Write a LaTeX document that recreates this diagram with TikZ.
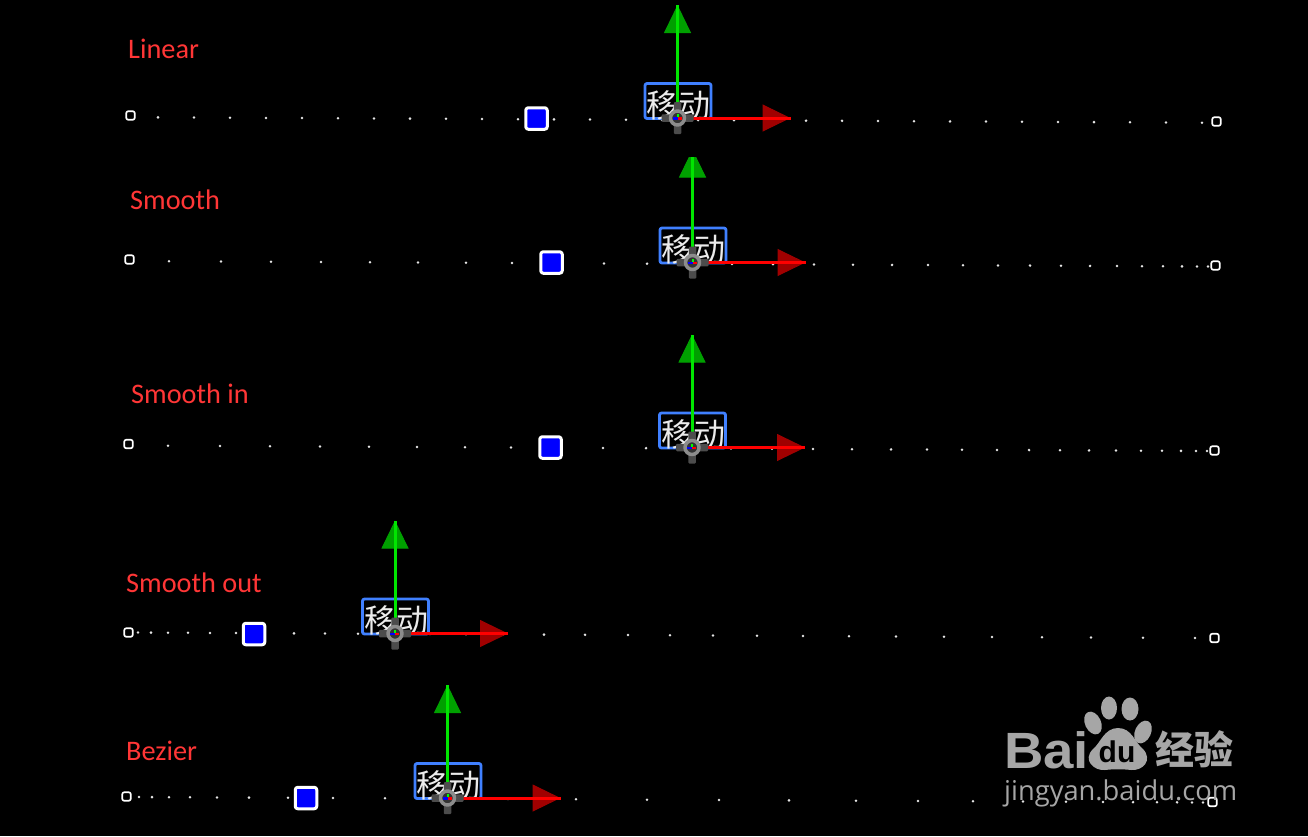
\documentclass[tikz,border=0pt]{standalone}
\usepackage{fontspec}
\setmainfont{Carlito}
\newfontfamily\cjk{Noto Sans CJK SC}
\newfontfamily\wmfont{Open Sans}
\newfontfamily\logofont{Liberation Sans}
\usetikzlibrary{arrows.meta,positioning,calc,shapes.geometric}
\definecolor{cred}{HTML}{ff3636}
\definecolor{cbox}{HTML}{4080ff}
\definecolor{cheadr}{HTML}{a00000}
\definecolor{cheadg}{HTML}{00a000}
\definecolor{cwm}{HTML}{a6a6a6}
\newcommand{\fsize}[1]{\fontsize{#1}{#1}\selectfont}

% one row of dots along the path
\newcommand{\dotrow}[3]{%
  \foreach \x in {#3} \node[dotpt] (dot#1-\x) at (\x,{#2+(\x-128)*0.0051}) {};}
% text box, axes and centre handle
\newcommand{\movegizmo}[3]{%
  \node[labelbox] (lab#1) at (#2+0.5,#3-17) {};
  \node[movetext] (txt#1) at (#2+1,#3-13) {移动};
  \coordinate (up#1) at (#2,#3-113);
  \coordinate (rt#1) at (#2+113,#3);
  \node[inner sep=0pt,minimum size=1pt] (g#1) at (#2,#3) {};
  \draw[-{Triangle[length=28pt,width=27pt]},cheadg,line width=1pt] (g#1) -- (up#1);
  \draw[-{Triangle[length=28pt,width=27pt]},cheadr,line width=1pt] (g#1) -- (rt#1);
  \draw[axisg] (g#1) -- (up#1);
  \draw[axisr] (g#1) -- (rt#1);
  \node[armh] (ah#1) at (g#1) {};
  \node[armv] (av#1) at (g#1) {};
  \node[ringc] (rc#1) at (g#1) {};
  \fill[blue] (#2-5,#3-1) rectangle (#2,#3+1.5);
  \fill[red] (#2,#3-1) rectangle (#2+4,#3+1.5);
  \fill[green] (#2-1,#3-4) rectangle (#2+1,#3-1);}

\begin{document}
\begin{tikzpicture}[x=1pt,y=-1pt,>=Latex,line join=round]
  \tikzstyle{dotpt}=[circle,fill=white!90!black,inner sep=0pt,minimum size=2.8pt]
  \tikzstyle{endkey}=[draw=white,line width=1.7pt,rounded corners=2pt,inner sep=0pt,minimum size=8.5pt]
  \tikzstyle{midkey}=[draw=white,fill=blue,line width=3pt,rounded corners=2.5pt,inner sep=0pt,minimum size=21.5pt]
  \tikzstyle{title}=[text=cred,anchor=base west,inner sep=0pt,font=\fsize{28.3}]
  \tikzstyle{labelbox}=[draw=cbox,line width=2.8pt,rounded corners=2pt,inner sep=0pt,minimum width=66pt,minimum height=35pt]
  \tikzstyle{movetext}=[text=white!92!black,inner sep=0pt,font=\cjk\fsize{32}]
  \tikzstyle{axisg}=[green!90!black,line width=3pt]
  \tikzstyle{axisr}=[red,line width=3pt]
  \tikzstyle{armh}=[fill=black!70,rounded corners=1pt,inner sep=0pt,minimum width=32pt,minimum height=7.5pt]
  \tikzstyle{armv}=[fill=black!70,rounded corners=1pt,inner sep=0pt,minimum width=7.5pt,minimum height=32pt]
  \tikzstyle{ringc}=[circle,draw=black!45,fill=black!80,line width=3.5pt,inner sep=0pt,minimum size=14pt]
  \tikzstyle{paw}=[ellipse,fill=cwm,inner sep=0pt]

  \useasboundingbox (0,0) rectangle (1308,836);
  \fill[black] (0,0) rectangle (1308,836);

  % row titles
  \node[title] (t1) at (128,58) {Linear};
  \node[title] (t2) at (130,209) {Smooth};
  \node[title] (t3) at (131,403) {Smooth in};
  \node[title] (t4) at (126,592) {Smooth out};
  \node[title] (t5) at (126,760) {Bezier};

  % dots
  \dotrow{a}{117.2}{158,194,230,266,302,338,374,410,446,482,518,554,590,626,662,698,734,770,806,842,878,914,950,986,1022,1058,1094,1130,1166,1202}
  \dotrow{b}{261}{169,221,271,321,370,418,466,512,558,604,647,690,732,773,814,853,892,928,963,998,1030,1061,1090,1117,1142,1163,1182,1197,1208}
  \dotrow{c}{445.5}{168,220,270,320,369,417,465,511,557,603,646,689,731,772,813,852,891,927,962,997,1029,1060,1089,1116,1141,1162,1181,1196,1207}
  \dotrow{d}{632.5}{138,151,168,188,210,236,264,294,325,358,394,430,466,503,544,585,628,670,713,757,803,849,896,944,992,1042,1091,1143,1195}
  \dotrow{e}{797}{139,152,169,190,217,249,288,333,385,446,508,576,647,719,789,856,918,973,1023,1066,1103,1133,1157,1177,1192,1203}

  % end keys
  \node[endkey] (sa) at (130.5,115.5) {};
  \node[endkey] (ea) at (1216.5,121.5) {};
  \node[endkey] (sb) at (129.5,259.5) {};
  \node[endkey] (eb) at (1215.5,265.5) {};
  \node[endkey] (sc) at (128.5,444) {};
  \node[endkey] (ec) at (1214.5,450.5) {};
  \node[endkey] (sd) at (128.5,632.5) {};
  \node[endkey] (ed) at (1214.5,638) {};
  \node[endkey] (se) at (126.5,796.5) {};
  \node[endkey] (ee) at (1212.5,802) {};

  % blue keys
  \node[midkey] (ka) at (536.5,118.5) {};
  \node[midkey] (kb) at (551.5,262.5) {};
  \node[midkey] (kc) at (550.5,447.5) {};
  \node[midkey] (kd) at (254,634) {};
  \node[midkey] (ke) at (306,798) {};

  % gizmos
  \movegizmo{a}{677.5}{118}
  \movegizmo{b}{692.5}{262.5}
  \movegizmo{c}{692}{447.5}
  \movegizmo{d}{395}{633.5}
  \movegizmo{e}{447.5}{798}
  % top of the second arrow is cut off
  \fill[black] (665,136) rectangle (720,157);

  % watermark
  \node[anchor=base west,inner sep=0pt,text=cwm,xscale=1.07,font=\logofont\bfseries\fsize{51}] (wbai) at (1004,768) {Bai};
  \node[paw,minimum width=16pt,minimum height=23pt] (p1) at (1109,708) {};
  \node[paw,minimum width=17pt,minimum height=23pt] (p2) at (1130,709) {};
  \node[paw,minimum width=16pt,minimum height=24pt,rotate=25] (p3) at (1093,723) {};
  \node[paw,minimum width=16pt,minimum height=24pt,rotate=-25] (p4) at (1143,732) {};
  \fill[cwm] (1118,728) .. controls (1104,728) and (1100,744) .. (1093,749)
    .. controls (1082,760) and (1094,771) .. (1105,770)
    .. controls (1113,769) and (1123,769) .. (1131,770)
    .. controls (1143,771) and (1153,760) .. (1143,749)
    .. controls (1135,743) and (1132,728) .. (1118,728) -- cycle;
  \node[inner sep=0pt,text=black,font=\logofont\bfseries\fsize{30}] (wdu) at (1117,752) {du};
  \node[anchor=base west,inner sep=0pt,text=cwm,font=\cjk\bfseries\fsize{39}] (wjy) at (1155,764) {经验};
  \node[anchor=base west,inner sep=0pt,text=cwm,font=\wmfont\fsize{27.3}] (wurl) at (1004,800) {jingyan.baidu.com};
\end{tikzpicture}
\end{document}
